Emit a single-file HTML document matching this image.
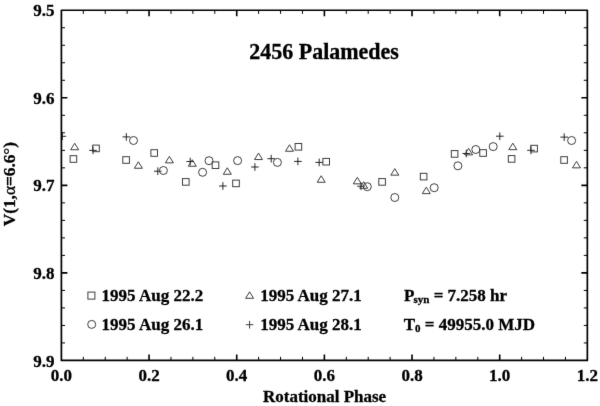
<!DOCTYPE html>
<html><head><meta charset="utf-8"><style>
html,body{margin:0;padding:0;background:#fff;}
svg{display:block;will-change:transform;}
text{font-family:"Liberation Serif",serif;font-weight:bold;fill:#000;stroke:#000;stroke-width:0.3px;}
</style></head><body>
<svg width="600" height="406" viewBox="0 0 600 406">
<defs><filter id="bl" x="0" y="0" width="600" height="406" filterUnits="userSpaceOnUse" color-interpolation-filters="sRGB"><feConvolveMatrix order="3" kernelMatrix="0.00524 0.06192 0.00524 0.06192 0.73137 0.06192 0.00524 0.06192 0.00524" edgeMode="duplicate"/></filter><clipPath id="pc"><rect x="61.4" y="10.25" width="525.95" height="350.2"/></clipPath></defs>
<g filter="url(#bl)">
<rect width="600" height="406" fill="#fff"/>
<g fill="none" stroke="#333" stroke-width="0.95" clip-path="url(#pc)">
<path stroke="#1a1a1a" d="M58.5 136.3H66.1M62.3 132.5V140.1"/>
<path d="M74.7 143.25L78.7 149.75H70.7Z"/>
<rect x="70.1" y="155.7" width="6.6" height="6.6"/>
<path stroke="#1a1a1a" d="M89.2 150.4H96.8M93 146.6V154.2"/>
<rect x="92.7" y="145.1" width="6.6" height="6.6"/>
<path stroke="#1a1a1a" d="M122.5 136.9H130.1M126.3 133.1V140.7"/>
<circle cx="133.5" cy="140.5" r="4"/>
<rect x="122.8" y="156.7" width="6.6" height="6.6"/>
<path d="M138.4 161.75L142.4 168.25H134.4Z"/>
<rect x="150.9" y="149.7" width="6.6" height="6.6"/>
<path d="M169.4 156.35L173.4 162.85H165.4Z"/>
<path stroke="#1a1a1a" d="M154 171.2H161.6M157.8 167.4V175"/>
<circle cx="163.4" cy="170.5" r="4"/>
<rect x="182.5" y="178.6" width="6.6" height="6.6"/>
<path stroke="#1a1a1a" d="M186.4 161.5H194M190.2 157.7V165.3"/>
<path d="M192.3 159.75L196.3 166.25H188.3Z"/>
<circle cx="209" cy="160.7" r="4"/>
<rect x="212.2" y="161.9" width="6.6" height="6.6"/>
<circle cx="202.6" cy="172.3" r="4"/>
<path d="M227.3 167.75L231.3 174.25H223.3Z"/>
<circle cx="237.6" cy="160.6" r="4"/>
<rect x="232.7" y="180.1" width="6.6" height="6.6"/>
<path stroke="#1a1a1a" d="M219.1 186H226.7M222.9 182.2V189.8"/>
<path d="M258.5 153.05L262.5 159.55H254.5Z"/>
<path stroke="#1a1a1a" d="M251.1 167H258.7M254.9 163.2V170.8"/>
<path stroke="#1a1a1a" d="M267.4 158.7H275M271.2 154.9V162.5"/>
<circle cx="277.4" cy="162.4" r="4"/>
<path d="M289.5 144.75L293.5 151.25H285.5Z"/>
<rect x="295.1" y="143.5" width="6.6" height="6.6"/>
<path stroke="#1a1a1a" d="M294.1 161.4H301.7M297.9 157.6V165.2"/>
<path stroke="#1a1a1a" d="M315.4 162.4H323M319.2 158.6V166.2"/>
<rect x="322.9" y="158.4" width="6.6" height="6.6"/>
<path d="M321.2 175.75L325.2 182.25H317.2Z"/>
<path d="M357.3 177.35L361.3 183.85H353.3Z"/>
<path stroke="#1a1a1a" d="M357.2 186.2H364.8M361 182.4V190"/>
<path d="M363.7 181.75L367.7 188.25H359.7Z"/>
<circle cx="367.3" cy="186.7" r="4"/>
<rect x="378.8" y="178.6" width="6.6" height="6.6"/>
<path d="M394.8 168.65L398.8 175.15H390.8Z"/>
<circle cx="394.8" cy="197.5" r="4"/>
<rect x="420.3" y="173.3" width="6.6" height="6.6"/>
<path d="M426.3 187.15L430.3 193.65H422.3Z"/>
<circle cx="434.2" cy="187.7" r="4"/>
<rect x="451.3" y="150.6" width="6.6" height="6.6"/>
<circle cx="457.9" cy="165.8" r="4"/>
<path stroke="#1a1a1a" d="M462.5 153.5H470.1M466.3 149.7V157.3"/>
<path d="M468.6 148.35L472.6 154.85H464.6Z"/>
<circle cx="475.8" cy="149.5" r="4"/>
<rect x="479.8" y="149.7" width="6.6" height="6.6"/>
<circle cx="493.2" cy="146.6" r="4"/>
<path stroke="#1a1a1a" d="M496 136.2H503.6M499.8 132.4V140"/>
<path d="M512.8 143.15L516.8 149.65H508.8Z"/>
<rect x="508.3" y="155.6" width="6.6" height="6.6"/>
<path stroke="#1a1a1a" d="M527.2 150.3H534.8M531 146.5V154.1"/>
<rect x="530.8" y="145.3" width="6.6" height="6.6"/>
<path stroke="#1a1a1a" d="M560.4 137.1H568M564.2 133.3V140.9"/>
<circle cx="571.6" cy="140.5" r="4"/>
<rect x="560.8" y="156.7" width="6.6" height="6.6"/>
<path d="M576.5 161.35L580.5 167.85H572.5Z"/>
</g>
<g stroke="#000" fill="none">
<path d="M61.4 27.76H65M587.35 27.76H583.75" stroke-width="1.0"/><path d="M61.4 45.27H65M587.35 45.27H583.75" stroke-width="1.0"/><path d="M61.4 62.78H65M587.35 62.78H583.75" stroke-width="1.0"/><path d="M61.4 80.29H65M587.35 80.29H583.75" stroke-width="1.0"/><path d="M61.4 97.8H67.4M587.35 97.8H581.35" stroke-width="1.6"/><path d="M61.4 115.31H65M587.35 115.31H583.75" stroke-width="1.0"/><path d="M61.4 132.82H65M587.35 132.82H583.75" stroke-width="1.0"/><path d="M61.4 150.33H65M587.35 150.33H583.75" stroke-width="1.0"/><path d="M61.4 167.84H65M587.35 167.84H583.75" stroke-width="1.0"/><path d="M61.4 185.35H67.4M587.35 185.35H581.35" stroke-width="1.6"/><path d="M61.4 202.86H65M587.35 202.86H583.75" stroke-width="1.0"/><path d="M61.4 220.37H65M587.35 220.37H583.75" stroke-width="1.0"/><path d="M61.4 237.88H65M587.35 237.88H583.75" stroke-width="1.0"/><path d="M61.4 255.39H65M587.35 255.39H583.75" stroke-width="1.0"/><path d="M61.4 272.9H67.4M587.35 272.9H581.35" stroke-width="1.6"/><path d="M61.4 290.41H65M587.35 290.41H583.75" stroke-width="1.0"/><path d="M61.4 307.92H65M587.35 307.92H583.75" stroke-width="1.0"/><path d="M61.4 325.43H65M587.35 325.43H583.75" stroke-width="1.0"/><path d="M61.4 342.94H65M587.35 342.94H583.75" stroke-width="1.0"/><path d="M83.31 360.45V356.85M83.31 10.25V13.85" stroke-width="1.0"/><path d="M105.23 360.45V356.85M105.23 10.25V13.85" stroke-width="1.0"/><path d="M127.14 360.45V356.85M127.14 10.25V13.85" stroke-width="1.0"/><path d="M149.06 360.45V354.45M149.06 10.25V16.25" stroke-width="1.6"/><path d="M170.97 360.45V356.85M170.97 10.25V13.85" stroke-width="1.0"/><path d="M192.89 360.45V356.85M192.89 10.25V13.85" stroke-width="1.0"/><path d="M214.8 360.45V356.85M214.8 10.25V13.85" stroke-width="1.0"/><path d="M236.72 360.45V354.45M236.72 10.25V16.25" stroke-width="1.6"/><path d="M258.63 360.45V356.85M258.63 10.25V13.85" stroke-width="1.0"/><path d="M280.55 360.45V356.85M280.55 10.25V13.85" stroke-width="1.0"/><path d="M302.46 360.45V356.85M302.46 10.25V13.85" stroke-width="1.0"/><path d="M324.38 360.45V354.45M324.38 10.25V16.25" stroke-width="1.6"/><path d="M346.29 360.45V356.85M346.29 10.25V13.85" stroke-width="1.0"/><path d="M368.2 360.45V356.85M368.2 10.25V13.85" stroke-width="1.0"/><path d="M390.12 360.45V356.85M390.12 10.25V13.85" stroke-width="1.0"/><path d="M412.03 360.45V354.45M412.03 10.25V16.25" stroke-width="1.6"/><path d="M433.95 360.45V356.85M433.95 10.25V13.85" stroke-width="1.0"/><path d="M455.86 360.45V356.85M455.86 10.25V13.85" stroke-width="1.0"/><path d="M477.78 360.45V356.85M477.78 10.25V13.85" stroke-width="1.0"/><path d="M499.69 360.45V354.45M499.69 10.25V16.25" stroke-width="1.6"/><path d="M521.61 360.45V356.85M521.61 10.25V13.85" stroke-width="1.0"/><path d="M543.52 360.45V356.85M543.52 10.25V13.85" stroke-width="1.0"/><path d="M565.44 360.45V356.85M565.44 10.25V13.85" stroke-width="1.0"/>
</g>
<rect x="61.4" y="10.25" width="525.95" height="350.2" fill="none" stroke="#000" stroke-width="1.7" stroke-linejoin="round"/>
<text transform="translate(54.4,16.35) scale(1,1.04)" font-size="17" text-anchor="end">9.5</text><text transform="translate(54.4,103.9) scale(1,1.04)" font-size="17" text-anchor="end">9.6</text><text transform="translate(54.4,191.45) scale(1,1.04)" font-size="17" text-anchor="end">9.7</text><text transform="translate(54.4,279) scale(1,1.04)" font-size="17" text-anchor="end">9.8</text><text transform="translate(54.4,366.55) scale(1,1.04)" font-size="17" text-anchor="end">9.9</text><text transform="translate(61.4,381.3) scale(1,1.04)" font-size="17" text-anchor="middle">0.0</text><text transform="translate(149.06,381.3) scale(1,1.04)" font-size="17" text-anchor="middle">0.2</text><text transform="translate(236.72,381.3) scale(1,1.04)" font-size="17" text-anchor="middle">0.4</text><text transform="translate(324.38,381.3) scale(1,1.04)" font-size="17" text-anchor="middle">0.6</text><text transform="translate(412.03,381.3) scale(1,1.04)" font-size="17" text-anchor="middle">0.8</text><text transform="translate(499.69,381.3) scale(1,1.04)" font-size="17" text-anchor="middle">1.0</text><text transform="translate(587.35,381.3) scale(1,1.04)" font-size="17" text-anchor="middle">1.2</text>
<text transform="translate(324.1,59) scale(1,1.04)" font-size="22" text-anchor="middle">2456 Palamedes</text>
<text transform="translate(263,401.6) scale(1,1.04)" font-size="17">Rotational Phase</text>
<text transform="translate(15.4,226.3) rotate(-90) scale(1.08,1)" font-size="16">V(1,<tspan font-weight="normal">&#945;</tspan>=6.6<tspan font-weight="normal">&#176;</tspan>)</text>
<g font-size="17">
<rect x="87.9" y="292.1" width="7" height="7" fill="none" stroke="#333" stroke-width="0.95"/>
<circle cx="91.7" cy="324.4" r="4" fill="none" stroke="#333" stroke-width="0.95"/>
<path d="M249.6 291.8L253.6 298.3H245.6Z" fill="none" stroke="#333" stroke-width="0.95"/>
<path d="M245.8 324.7H253.4M249.6 320.9V328.5" fill="none" stroke="#333" stroke-width="0.95"/>
<text transform="translate(101.6,301) scale(1,1.0)" font-size="17">1995 Aug 22.2</text>
<text transform="translate(101.6,329.6) scale(1,1.0)" font-size="17">1995 Aug 26.1</text>
<text transform="translate(260.2,301) scale(1,1.0)" font-size="17">1995 Aug 27.1</text>
<text transform="translate(260.2,329.6) scale(1,1.0)" font-size="17">1995 Aug 28.1</text>
<text transform="translate(403.9,301) scale(1,1.0)" font-size="17">P<tspan font-size="11" dx="-0.8" dy="2.3">syn</tspan><tspan dy="-2.3"> = 7.258 hr</tspan></text>
<text transform="translate(403.7,329.5) scale(1,1.0)" font-size="17">T<tspan font-size="11" dy="2">0</tspan><tspan dy="-2"> = 49955.0 MJD</tspan></text>
</g>
</g>
</svg>
</body></html>
